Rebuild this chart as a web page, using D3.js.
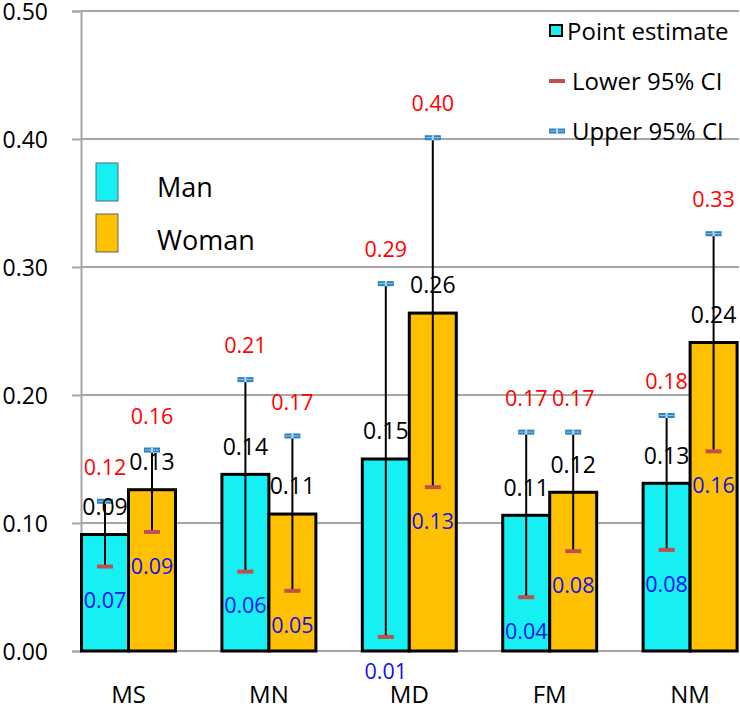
<!DOCTYPE html>
<html>
<head>
<meta charset="utf-8">
<script src="https://cdn.jsdelivr.net/npm/d3@7"></script>
<style>
  html, body { margin: 0; padding: 0; background: #fff; }
  svg { display: block; font-family: "Open Sans", sans-serif; }
</style>
</head>
<body>
<svg id="chart" width="740" height="710"></svg>
<script>
const categories = ["MS", "MN", "MD", "FM", "NM"];
const groups = ["Man", "Woman"];
const manPoint   = [0.091, 0.138, 0.150, 0.106, 0.131];
const womanPoint = [0.126, 0.107, 0.264, 0.124, 0.241];
const manLower   = [0.066, 0.062, 0.011, 0.042, 0.079];
const manUpper   = [0.117, 0.212, 0.287, 0.171, 0.184];
const womanLower = [0.093, 0.047, 0.128, 0.078, 0.156];
const womanUpper = [0.157, 0.168, 0.401, 0.171, 0.326];
const yTicks = [0, 0.1, 0.2, 0.3, 0.4, 0.5];
const legendItems = ["Point estimate", "Lower 95% CI", "Upper 95% CI"];

const colors = { Man: "#17F0F3", Woman: "#FFC000" };
const gridColor = "#A6A6A6";
const lowerColor = "#C0504D";
const upperColor = "#2E80BE";
const FONT = "'Open Sans', sans-serif";

const svg = d3.select("#chart");
svg.append("rect").attr("width", 740).attr("height", 710).attr("fill", "#fff");

const y = d3.scaleLinear().domain([0, 0.5]).range([651, 11]);
const x0 = d3.scaleBand().domain(categories).range([58.3, 760.3]).padding(0);
const x1 = d3.scaleBand().domain(groups).range([0, x0.bandwidth()]).paddingInner(0).paddingOuter(0.494);
const axisX = 81, plotRight = 739;

// gridlines
svg.append("g").selectAll("line").data(yTicks).join("line")
  .attr("x1", axisX).attr("x2", plotRight)
  .attr("y1", d => y(d)).attr("y2", d => y(d))
  .attr("stroke", gridColor).attr("stroke-width", 2);

// y axis
const yAxis = svg.append("g").attr("transform", `translate(${axisX},0)`)
  .call(d3.axisLeft(y).tickValues(yTicks).tickSize(9).tickPadding(24).tickFormat(d3.format(".2f")));
yAxis.select(".domain").attr("stroke", gridColor).attr("stroke-width", 2);
yAxis.selectAll(".tick line").attr("stroke", gridColor).attr("stroke-width", 2);
yAxis.selectAll(".tick text").attr("font-size", 23).attr("fill", "#000")
  .attr("font-family", FONT).attr("dy", "0.36em");

// data rows
const rows = [];
categories.forEach((c, i) => {
  rows.push({ cat: c, g: "Man", v: manPoint[i], lo: manLower[i], hi: manUpper[i] });
  rows.push({ cat: c, g: "Woman", v: womanPoint[i], lo: womanLower[i], hi: womanUpper[i] });
});
const cx = d => x0(d.cat) + x1(d.g) + x1.bandwidth() / 2;
const fmt = d3.format(".2f");

// bars
svg.append("g").selectAll("rect").data(rows).join("rect")
  .attr("x", d => x0(d.cat) + x1(d.g))
  .attr("y", d => y(d.v))
  .attr("width", x1.bandwidth())
  .attr("height", d => y(0) - y(d.v))
  .attr("fill", d => colors[d.g])
  .attr("stroke", "#000").attr("stroke-width", 3);

// error bars
const eb = svg.append("g");
eb.selectAll("line").data(rows).join("line")
  .attr("x1", cx).attr("x2", cx)
  .attr("y1", d => y(d.lo)).attr("y2", d => y(d.hi))
  .attr("stroke", "#000").attr("stroke-width", 2);

function lowerMarker(sel, xf, yf) {
  sel.append("rect").attr("x", d => xf(d) - 8).attr("y", d => yf(d) - 2)
    .attr("width", 16).attr("height", 4).attr("fill", lowerColor);
}
function upperMarker(sel, xf, yf) {
  sel.append("rect").attr("x", d => xf(d) - 8).attr("y", d => yf(d) - 2.5)
    .attr("width", 16).attr("height", 5).attr("fill", upperColor);
  sel.append("rect").attr("x", d => xf(d) - 1).attr("y", d => yf(d) - 2.5)
    .attr("width", 2).attr("height", 5).attr("fill", "#BFE3F5");
  sel.append("line").attr("x1", d => xf(d) - 7).attr("x2", d => xf(d) + 7)
    .attr("y1", d => yf(d)).attr("y2", d => yf(d))
    .attr("stroke", "#8FCBEB").attr("stroke-width", 1);
}
const lm = eb.append("g").selectAll("g").data(rows).join("g");
lowerMarker(lm, cx, d => y(d.lo));
const um = eb.append("g").selectAll("g").data(rows).join("g");
upperMarker(um, cx, d => y(d.hi));

// labels
const lab = svg.append("g").attr("text-anchor", "middle");
lab.selectAll("text.pt").data(rows).join("text").attr("class", "pt")
  .attr("x", cx).attr("y", d => y(d.v) - 28).attr("dy", "0.36em")
  .attr("font-size", 23).attr("fill", "#000").text(d => fmt(d.v));
lab.selectAll("text.hi").data(rows).join("text").attr("class", "hi")
  .attr("x", cx).attr("y", d => y(d.hi) - 34).attr("dy", "0.36em")
  .attr("font-size", 21.5).attr("fill", "#FF0000").text(d => fmt(d.hi));
lab.selectAll("text.lo").data(rows).join("text").attr("class", "lo")
  .attr("x", cx).attr("y", d => y(d.lo) + 34).attr("dy", "0.36em")
  .attr("font-size", 21.5).attr("fill", "#1010F0").text(d => fmt(d.lo));

// category labels
svg.append("g").selectAll("text").data(categories).join("text")
  .attr("x", d => x0(d) + x0.bandwidth() / 2).attr("y", 694.5).attr("dy", "0.36em")
  .attr("text-anchor", "middle")
  .attr("font-size", 24).attr("fill", "#000").text(d => d);

// left legend (groups)
const gl = svg.append("g");
groups.forEach((g, i) => {
  const top = [163, 214][i];
  gl.append("rect").attr("x", 96).attr("y", top).attr("width", 22).attr("height", 38)
    .attr("fill", colors[g]).attr("stroke", "#4A6A70").attr("stroke-width", 1);
  gl.append("text").attr("x", 157).attr("y", [187, 240][i]).attr("dy", "0.36em")
    .attr("font-size", 27).attr("fill", "#000").text(g);
});

// right legend
const rl = svg.append("g");
const rowY = [31, 81, 131];
rl.append("rect").attr("x", 550).attr("y", rowY[0] - 6).attr("width", 12).attr("height", 11)
  .attr("fill", colors.Man).attr("stroke", "#000").attr("stroke-width", 2);
lowerMarker(rl.append("g").datum(0), () => 557, () => rowY[1]);
upperMarker(rl.append("g").datum(0), () => 557, () => rowY[2]);
legendItems.forEach((t, i) => {
  rl.append("text").attr("x", i === 0 ? 567 : 572).attr("y", rowY[i]).attr("dy", "0.36em")
    .attr("font-size", 24).attr("fill", "#000").text(t);
});
</script>
</body>
</html>
